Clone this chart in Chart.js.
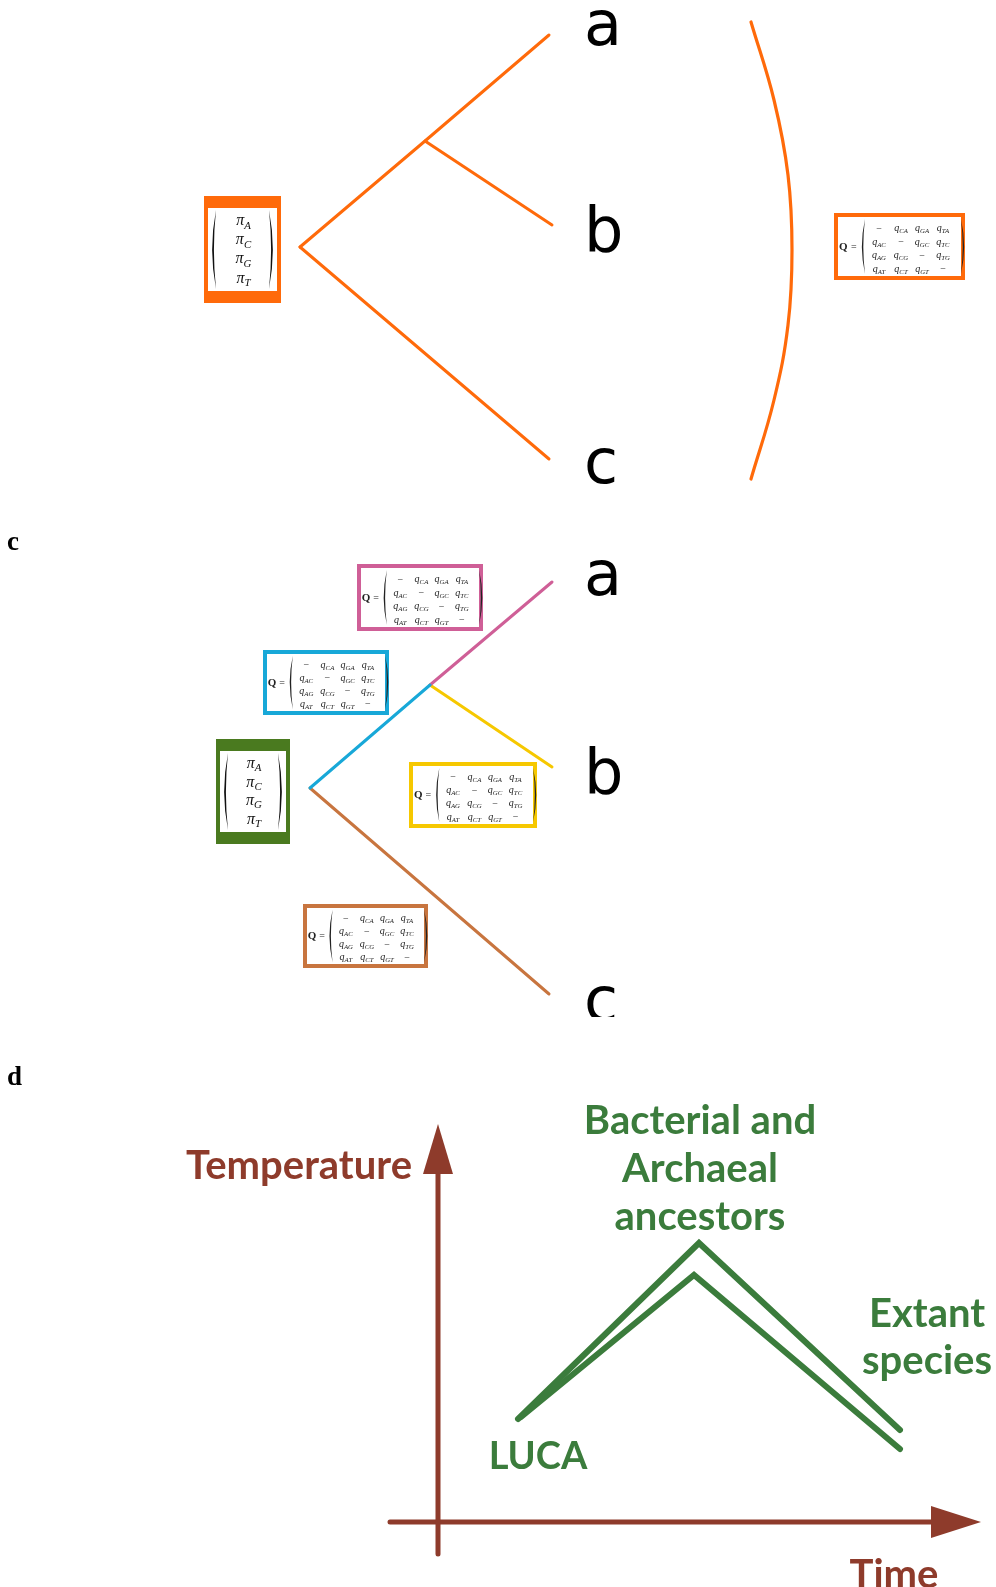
<!DOCTYPE html>
<html>
<head>
<meta charset="utf-8">
<script src="https://cdn.jsdelivr.net/npm/chart.js@4.4.0/dist/chart.umd.min.js"></script>
<style>
html, body { margin: 0; padding: 0; background: #fff; overflow: hidden; }
canvas { display: block; }
</style>
</head>
<body>
<canvas id="fig" width="996" height="1587"></canvas>
<script>
// tree b: one shared rate matrix, nodes in page units
const topBranchA = [{x: 300, y: 247}, {x: 425, y: 141}, {x: 549, y: 35}];
const topBranchB = [{x: 425, y: 141}, {x: 552, y: 225}];
const topBranchC = [{x: 300, y: 247}, {x: 549, y: 459}];
const topBrace = [
    {x: 751, y: 22}, {x: 774, y: 100}, {x: 788, y: 175}, {x: 792, y: 250},
    {x: 788, y: 325}, {x: 774, y: 400}, {x: 751, y: 479}
];

// tree c: one rate matrix per branch
const rootStem = [{x: 310, y: 788}, {x: 430, y: 685}];
const branchA = [{x: 430, y: 685}, {x: 552, y: 582}];
const branchB = [{x: 430, y: 685}, {x: 552, y: 767}];
const branchC = [{x: 310, y: 788}, {x: 549, y: 994}];

// panel d: temperature through time
const upperTemp = [{x: 518, y: 1419}, {x: 699, y: 1243}, {x: 900, y: 1430}];
const lowerTemp = [{x: 521, y: 1417}, {x: 694, y: 1275}, {x: 900, y: 1449}];
const tempAxis = [{x: 438, y: 1554}, {x: 438, y: 1170}];
const timeAxis = [{x: 390, y: 1522}, {x: 935, y: 1522}];

const leafLabels = ['a', 'b', 'c'];
const piEntries = ['A', 'C', 'G', 'T'];
const qRows = [
    ['', 'CA', 'GA', 'TA'],
    ['AC', '', 'GC', 'TC'],
    ['AG', 'CG', '', 'TG'],
    ['AT', 'CT', 'GT', '']
];
const ancestorText = ['Bacterial and', 'Archaeal', 'ancestors'];
const extantText = ['Extant', 'species'];

const ORANGE = '#ff6a0a';
const PINK = '#cf5f97';
const BLUE = '#18a8d8';
const YELLOW = '#f6c800';
const BROWN = '#c8753f';
const LEAFGREEN = '#4a7a1f';
const RUST = '#8e3b2b';
const GREEN = '#3b7c3c';

function seg(data, color, width) {
    return {
        data: data,
        showLine: true,
        borderColor: color,
        borderWidth: width,
        pointRadius: 0,
        fill: false,
        tension: 0,
        borderCapStyle: 'round',
        borderJoinStyle: 'miter'
    };
}

const braceSet = seg(topBrace, ORANGE, 3.2);
braceSet.tension = 0.4;

function paren(ctx, x, top, bottom, dir, w) {
    // filled crescent like a TeX delimiter
    const mid = (top + bottom) / 2;
    ctx.beginPath();
    ctx.moveTo(x, top);
    ctx.quadraticCurveTo(x - dir * w * 2.4, mid, x, bottom);
    ctx.quadraticCurveTo(x - dir * w * 1.3, mid, x, top);
    ctx.fill();
}

function subText(ctx, base, sub, cx, cy, size) {
    ctx.font = 'italic ' + size + 'px "Liberation Serif"';
    const bw = ctx.measureText(base).width;
    ctx.font = 'italic ' + (size * 0.68) + 'px "Liberation Serif"';
    const sw = sub ? ctx.measureText(sub).width : 0;
    const left = cx - (bw + sw) / 2;
    ctx.textAlign = 'left';
    ctx.textBaseline = 'alphabetic';
    ctx.font = 'italic ' + size + 'px "Liberation Serif"';
    ctx.fillText(base, left, cy + size * 0.2);
    if (sub) {
        ctx.font = 'italic ' + (size * 0.68) + 'px "Liberation Serif"';
        ctx.fillText(sub, left + bw, cy + size * 0.4);
    }
}

function frame(ctx, x0, y0, x1, y1, color, side, tb) {
    ctx.fillStyle = color;
    ctx.fillRect(x0, y0, x1 - x0, y1 - y0);
    ctx.fillStyle = '#fff';
    ctx.fillRect(x0 + side, y0 + tb, x1 - x0 - 2 * side, y1 - y0 - 2 * tb);
}

function piBox(ctx, x0, y0, x1, y1, color) {
    frame(ctx, x0, y0, x1, y1, color, 4, 12);
    const ix0 = x0 + 4, ix1 = x1 - 4, iy0 = y0 + 12, iy1 = y1 - 12;
    const h = iy1 - iy0;
    ctx.fillStyle = '#111';
    paren(ctx, ix0 + 8, iy0 + 2, iy1 - 2, 1, 3.2);
    paren(ctx, ix1 - 8, iy0 + 2, iy1 - 2, -1, 3.2);
    const fr = [0.17, 0.4, 0.63, 0.86];
    piEntries.forEach((s, i) => {
        subText(ctx, 'π', s, (ix0 + ix1) / 2 + 1, iy0 + fr[i] * h, 16);
    });
}

function qBox(ctx, x0, y0, x1, y1, color) {
    frame(ctx, x0, y0, x1, y1, color, 4, 4);
    const w = x1 - x0, h = y1 - y0;
    const sx = v => x0 + v / 131 * w;
    const sy = v => y0 + v / 67 * h;
    ctx.fillStyle = '#222';
    ctx.textAlign = 'left';
    ctx.textBaseline = 'middle';
    ctx.font = 'bold 11px "Liberation Serif"';
    ctx.fillText('Q', sx(5), sy(34));
    ctx.font = '10px "Liberation Serif"';
    ctx.fillText('=', sx(17), sy(34));
    paren(ctx, sx(31), sy(6), sy(61), 1, 2.6);
    paren(ctx, sx(127), sy(6), sy(61), -1, 2.6);
    const cols = [45, 67, 88, 109];
    const rows = [16, 29.5, 43, 56.5];
    qRows.forEach((row, r) => {
        row.forEach((s, c) => {
            if (s === '') {
                ctx.font = '10px "Liberation Serif"';
                ctx.textAlign = 'center';
                ctx.textBaseline = 'middle';
                ctx.fillText('−', sx(cols[c]), sy(rows[r]));
            } else {
                subText(ctx, 'q', s, sx(cols[c]), sy(rows[r]), 10);
            }
        });
    });
}

const diagram = {
    id: 'diagram',
    afterDatasetsDraw(chart) {
        const ctx = chart.ctx;
        const px = v => chart.scales.x.getPixelForValue(v);
        const py = v => chart.scales.y.getPixelForValue(v);
        ctx.save();

        // boxes
        piBox(ctx, px(204), py(196), px(281), py(303), ORANGE);
        qBox(ctx, px(834), py(213), px(965), py(280), ORANGE);
        piBox(ctx, px(216), py(739), px(290), py(844), LEAFGREEN);
        qBox(ctx, px(357), py(564), px(483), py(631), PINK);
        qBox(ctx, px(263), py(650), px(389), py(715), BLUE);
        qBox(ctx, px(409), py(762), px(537), py(828), YELLOW);
        qBox(ctx, px(303), py(904), px(428), py(968), BROWN);

        // leaf labels
        ctx.fillStyle = '#000';
        ctx.textAlign = 'left';
        ctx.textBaseline = 'alphabetic';
        ctx.font = '62px "DejaVu Sans"';
        const topBase = [45, 251, 483];
        leafLabels.forEach((s, i) => ctx.fillText(s, px(584), py(topBase[i])));
        ctx.save();
        ctx.beginPath();
        ctx.rect(0, 0, chart.width, py(1017));
        ctx.clip();
        const midBase = [595, 793, 1021];
        leafLabels.forEach((s, i) => ctx.fillText(s, px(584), py(midBase[i])));
        ctx.restore();

        // panel letters
        ctx.font = 'bold 27px "Liberation Serif"';
        ctx.fillText('c', px(7), py(550));
        ctx.fillText('d', px(7), py(1085));

        // arrow heads
        ctx.fillStyle = RUST;
        ctx.beginPath();
        ctx.moveTo(px(438), py(1124));
        ctx.lineTo(px(453), py(1174));
        ctx.lineTo(px(423), py(1174));
        ctx.closePath();
        ctx.fill();
        ctx.beginPath();
        ctx.moveTo(px(981), py(1522));
        ctx.lineTo(px(931), py(1506));
        ctx.lineTo(px(931), py(1538));
        ctx.closePath();
        ctx.fill();

        // panel d words
        ctx.font = 'bold 40px Lato';
        ctx.textAlign = 'right';
        ctx.fillText('Temperature', px(412), py(1179));
        ctx.textAlign = 'center';
        ctx.fillText('Time', px(894), py(1588));
        ctx.fillStyle = GREEN;
        ancestorText.forEach((s, i) => ctx.fillText(s, px(700), py(1134 + i * 48)));
        extantText.forEach((s, i) => ctx.fillText(s, px(927), py(1327 + i * 47)));
        ctx.font = 'bold 38px Lato';
        ctx.fillText('LUCA', px(538), py(1469));

        ctx.restore();
    }
};

new Chart(document.getElementById('fig').getContext('2d'), {
    type: 'scatter',
    data: {
        datasets: [
            seg(topBranchA, ORANGE, 3),
            seg(topBranchB, ORANGE, 3),
            seg(topBranchC, ORANGE, 3),
            braceSet,
            seg(rootStem, BLUE, 3),
            seg(branchA, PINK, 3),
            seg(branchB, YELLOW, 3),
            seg(branchC, BROWN, 3),
            seg(upperTemp, GREEN, 6),
            seg(lowerTemp, GREEN, 6),
            seg(tempAxis, RUST, 5),
            seg(timeAxis, RUST, 5)
        ]
    },
    options: {
        responsive: false,
        animation: false,
        devicePixelRatio: 1,
        layout: { padding: 0 },
        scales: {
            x: { type: 'linear', min: 0, max: 996, display: false },
            y: { type: 'linear', min: 0, max: 1587, reverse: true, display: false }
        },
        plugins: {
            legend: { display: false },
            tooltip: { enabled: false }
        }
    },
    plugins: [diagram]
});
</script>
</body>
</html>
